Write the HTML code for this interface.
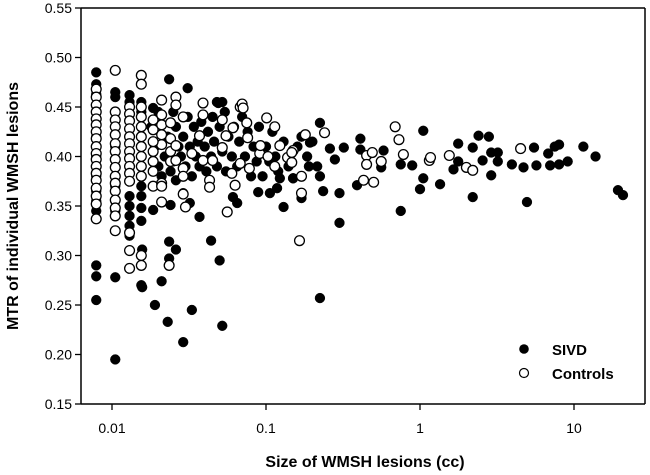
<!DOCTYPE html>
<html><head><meta charset="utf-8"><style>
body{margin:0;background:#fff}
svg{display:block;font-family:"Liberation Sans",Arial,sans-serif}
</style></head><body>
<svg id="chart" width="650" height="475" viewBox="0 0 650 475">
<rect x="0" y="0" width="650" height="475" fill="#fff"/>
<g id="axes"></g>
<g id="marks"></g>
<line x1="81" y1="8" x2="645" y2="8" stroke="#000" stroke-width="1.5"/>
<line x1="645" y1="8" x2="645" y2="404" stroke="#000" stroke-width="1.5"/>
<line x1="81" y1="8" x2="81" y2="404" stroke="#000" stroke-width="1.5"/>
<line x1="81" y1="404" x2="645" y2="404" stroke="#000" stroke-width="1.5"/>
<text x="18" y="206" transform="rotate(-90 18 206)" text-anchor="middle" font-weight="bold" font-size="16">MTR of individual WMSH lesions</text>
<text x="365" y="467" text-anchor="middle" font-weight="bold" font-size="16">Size of WMSH lesions (cc)</text>
<g>
<circle cx="524" cy="349" r="4.8" fill="#000"/>
<text x="552" y="355" font-weight="bold" font-size="15">SIVD</text>
<circle cx="524" cy="373" r="4.5" fill="#fff" stroke="#000" stroke-width="1.2"/>
<text x="552" y="379" font-weight="bold" font-size="15">Controls</text>
</g>
</svg>
<script>
const xTicks=[0.01,0.1,1,10];
const xTickLabels=["0.01","0.1","1","10"];
const yTicks=[0.15,0.20,0.25,0.30,0.35,0.40,0.45,0.50,0.55];
const yTickLabels=["0.15","0.20","0.25","0.30","0.35","0.40","0.45","0.50","0.55"];
const sivdX=[0.0079,0.0079,0.0079,0.0079,0.0079,0.0079,0.0079,0.0079,0.0079,0.0079,0.0079,0.0079,
0.0105,0.0105,0.0105,0.0105,0.0105,0.0105,0.0105,0.0105,0.0105,
0.013,0.013,0.013,0.013,0.013,0.013,0.013,
0.0155,0.0155,0.0155,0.0155,0.0155,0.0155,0.0155,
0.0235,0.031,0.049,0.0185,0.026,0.029,0.032,0.061,0.065,0.13,0.15,0.123,0.106,0.118,0.089,0.037,0.0185,0.024,
0.018,0.019,0.02,0.021,0.022,0.023,0.024,0.025,0.026,0.027,0.028,0.029,0.03,0.031,0.032,0.033,0.034,0.035,0.036,0.037,0.038,0.04,0.041,0.042,0.044,0.045,0.046,0.048,0.05,0.052,0.054,0.055,0.057,0.06,0.062,0.065,0.067,0.07,0.073,0.076,0.08,0.083,0.087,0.09,0.095,0.1,0.105,0.11,0.115,0.12,0.13,0.14,0.16,0.17,0.185,0.2,0.048,0.052,0.025,0.02,
0.0157,0.021,0.0157,0.0235,0.026,0.0235,0.044,0.05,0.019,0.033,0.023,0.052,0.029,
0.224,0.193,0.26,0.32,0.28,0.41,0.41,0.58,0.56,0.75,0.89,1.05,1.05,1.0,1.35,1.77,1.77,1.65,2.2,2.4,2.8,2.55,2.9,3.2,3.2,2.9,2.2,3.95,4.7,5.7,5.5,4.95,6.8,7.5,8.0,7.0,8.0,9.1,11.5,13.8,19.3,20.8,0.75,0.30,0.235,0.30,0.224,0.224,0.215,0.19,0.17,0.15,0.39];
const sivdY=[0.485,0.473,0.463,0.29,0.279,0.255,0.42,0.40,0.38,0.365,0.355,0.345,
0.465,0.46,0.41,0.39,0.37,0.355,0.345,0.278,0.195,
0.462,0.455,0.36,0.35,0.34,0.33,0.32,
0.455,0.445,0.37,0.36,0.348,0.335,0.27,
0.478,0.469,0.454,0.449,0.376,0.363,0.353,0.359,0.353,0.349,0.378,0.378,0.363,0.368,0.364,0.339,0.346,0.351,
0.43,0.41,0.39,0.38,0.40,0.42,0.385,0.395,0.43,0.41,0.40,0.42,0.39,0.44,0.41,0.38,0.43,0.40,0.415,0.39,0.435,0.41,0.385,0.425,0.40,0.44,0.415,0.39,0.43,0.405,0.445,0.385,0.42,0.40,0.43,0.39,0.415,0.44,0.40,0.425,0.38,0.41,0.395,0.43,0.38,0.41,0.395,0.425,0.40,0.385,0.415,0.39,0.41,0.42,0.40,0.415,0.455,0.455,0.445,0.445,
0.268,0.274,0.306,0.314,0.306,0.297,0.315,0.295,0.25,0.245,0.233,0.229,0.2125,
0.434,0.414,0.408,0.409,0.397,0.418,0.407,0.406,0.389,0.392,0.391,0.426,0.378,0.367,0.372,0.413,0.395,0.387,0.409,0.421,0.42,0.396,0.404,0.404,0.395,0.381,0.359,0.392,0.389,0.391,0.409,0.354,0.403,0.41,0.412,0.391,0.392,0.395,0.41,0.4,0.366,0.361,0.345,0.363,0.365,0.333,0.257,0.38,0.39,0.39,0.358,0.378,0.371];
const ctrlX=[0.0079,0.0079,0.0079,0.0079,0.0079,0.0079,0.0079,0.0079,0.0079,0.0079,0.0079,0.0079,0.0079,0.0079,0.0079,0.0079,0.0079,0.0079,
0.0105,0.0105,0.0105,0.0105,0.0105,0.0105,0.0105,0.0105,0.0105,0.0105,0.0105,0.0105,0.0105,0.0105,0.0105,0.0105,
0.013,0.013,0.013,0.013,0.013,0.013,0.013,0.013,0.013,0.013,0.013,0.013,0.013,0.013,
0.0155,0.0155,0.0155,0.0155,0.0155,0.0155,0.0155,0.0155,0.0155,0.0155,0.0155,0.0155,
0.021,0.026,0.026,0.039,0.068,0.07,0.101,0.114,0.021,0.021,0.021,0.021,0.0185,0.0185,0.0185,0.0185,0.0185,0.0185,0.0185,0.021,0.021,0.024,0.024,0.024,0.024,0.026,0.026,0.029,0.029,0.029,0.029,0.033,0.037,0.039,0.039,0.043,0.043,0.045,0.052,0.055,0.061,0.052,0.06,0.063,0.068,0.071,0.075,0.076,0.078,0.091,0.092,0.103,0.114,0.123,0.138,0.15,0.056,0.03,0.021,0.0235,
0.69,0.73,0.78,1.15,1.17,1.55,2.0,2.2,4.5,0.45,0.45,0.49,0.56,0.43,0.5,0.24,0.18,0.17,0.17,0.165,0.147,0.147];
const ctrlY=[0.468,0.46,0.452,0.445,0.438,0.432,0.425,0.418,0.41,0.403,0.397,0.39,0.383,0.376,0.368,0.36,0.352,0.337,
0.487,0.445,0.437,0.43,0.422,0.413,0.405,0.397,0.389,0.38,0.373,0.365,0.356,0.348,0.34,0.325,
0.45,0.443,0.436,0.428,0.42,0.413,0.405,0.398,0.39,0.383,0.375,0.305,0.287,0.323,
0.482,0.473,0.45,0.44,0.43,0.42,0.41,0.40,0.39,0.38,0.30,0.29,
0.457,0.46,0.452,0.454,0.45,0.453,0.439,0.43,0.442,0.432,0.422,0.412,0.437,0.427,0.415,0.405,0.395,0.385,0.37,0.373,0.354,0.434,0.418,0.405,0.395,0.411,0.396,0.44,0.388,0.38,0.362,0.403,0.421,0.442,0.396,0.376,0.369,0.396,0.437,0.421,0.429,0.409,0.383,0.371,0.393,0.449,0.434,0.419,0.388,0.403,0.411,0.4,0.39,0.411,0.399,0.406,0.344,0.349,0.37,0.29,
0.43,0.417,0.402,0.396,0.399,0.401,0.389,0.386,0.408,0.401,0.392,0.404,0.395,0.376,0.374,0.424,0.422,0.38,0.363,0.315,0.404,0.394];
const X0=112,DEC=154,PT=8,PB=404,PL=81;
function xs(v){return X0+DEC*Math.log10(v/0.01);}
function ys(v){return PT+(0.55-v)/0.4*(PB-PT);}
const NS="http://www.w3.org/2000/svg";
const axes=document.getElementById('axes'),marks=document.getElementById('marks');
xTicks.forEach((t,i)=>{
 const l=document.createElementNS(NS,'line');
 l.setAttribute('x1',xs(t));l.setAttribute('x2',xs(t));l.setAttribute('y1',PB);l.setAttribute('y2',PB+6);l.setAttribute('stroke','#000');l.setAttribute('stroke-width','1.3');
 
 
 axes.appendChild(l);
 const tx=document.createElementNS(NS,'text');
 tx.setAttribute('x',xs(t));tx.setAttribute('y',PB+29);tx.setAttribute('text-anchor','middle');tx.setAttribute('font-size','14');
 tx.textContent=xTickLabels[i];
 
 
 axes.appendChild(tx);
});
yTicks.forEach((t,i)=>{
 const l=document.createElementNS(NS,'line');
 l.setAttribute('x1',PL-6);l.setAttribute('x2',PL);l.setAttribute('y1',ys(t));l.setAttribute('y2',ys(t));l.setAttribute('stroke','#000');l.setAttribute('stroke-width','1.3');
 
 
 axes.appendChild(l);
 const tx=document.createElementNS(NS,'text');
 tx.setAttribute('x',PL-9);tx.setAttribute('y',ys(t)+5);tx.setAttribute('text-anchor','end');tx.setAttribute('font-size','14');
 tx.textContent=yTickLabels[i];
 
 
 axes.appendChild(tx);
});
function pts(X,Y,filled,name){
 for(let i=0;i<X.length;i++){
  const c=document.createElementNS(NS,'circle');
  c.setAttribute('cx',xs(X[i]));c.setAttribute('cy',ys(Y[i]));c.setAttribute('r',4.9);
  c.setAttribute('fill',filled?'#000':'#fff');c.setAttribute('stroke','#000');c.setAttribute('stroke-width',filled?0.5:1.3);
  
  
  marks.appendChild(c);
 }
}
pts(sivdX,sivdY,true,'sivd-point');
pts(ctrlX,ctrlY,false,'control-point');
</script>
</body></html>
